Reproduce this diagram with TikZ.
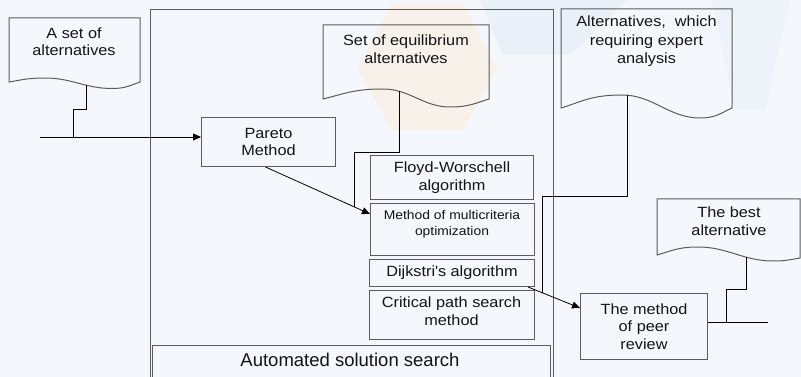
\documentclass[tikz,border=0pt]{standalone}
\usepackage{fontspec}
\setmainfont{Liberation Sans}[FakeStretch=1.1]
\newfontfamily\plainsans{Liberation Sans}
\usetikzlibrary{arrows.meta,calc}
\definecolor{bgc}{HTML}{F4F7FC}
\definecolor{boxc}{HTML}{5C5C5C}
\definecolor{txtc}{HTML}{141414}
\definecolor{wmor}{HTML}{F7F1EA}
\definecolor{wmbl}{HTML}{EAF0F8}
% document shape: xL xR top bottomL bottomR xPeak yPeak xDip yDip
\newcommand\docshp[9]{%
  \draw[docline] (#1,#4) -- (#1,#3) -- (#2,#3) -- (#2,#5)
    .. controls ({#2-0.35*(#2-#8)},{#5+0.5*(#9-#5)}) and ({#8+0.5*(#2-#8)},#9) .. (#8,#9)
    .. controls ({#8-0.4*(#8-#6)},#9) and ({#6+0.4*(#8-#6)},#7) .. (#6,#7)
    .. controls ({#6-0.5*(#6-#1)},#7) and ({#1+0.35*(#6-#1)},{#4-0.5*(#4-#7)}) .. (#1,#4) -- cycle;}
\begin{document}
\begin{tikzpicture}[x=1pt,y=-1pt,
  box/.style={draw=boxc, line width=1pt, anchor=north west, inner sep=0pt, align=center,
              text=txtc, font=\fontsize{14.8}{17.5}\selectfont},
  lbl/.style={inner sep=0pt, align=center, text=txtc, font=\fontsize{14.8}{17.5}\selectfont},
  docline/.style={draw=boxc, line width=1pt},
  conn/.style={draw=black, line width=0.8pt},
  arr/.style={conn, -{Triangle[length=8pt,width=7pt]}}]
\useasboundingbox (0,0) rectangle (801,377);
\clip (0,0) rectangle (801,377);
\fill[bgc] (0,0) rectangle (801,377);
% faint watermark
\fill[wmor] (392,3) -- (463,3) -- (497,68) -- (463,130) -- (392,130) -- (357,68) -- cycle;
\fill[wmbl] (480,0) -- (627,0) -- (570,55) -- (503,55) -- cycle;
\fill[wmbl, opacity=0.6] (712,0) -- (790,0) -- (765,110) -- (735,110) -- cycle;
% container
\node[draw=boxc, line width=1pt, anchor=north west, inner sep=0pt,
      minimum width=403pt, minimum height=400pt] (frame) at (150,9) {};
% boxes
\node[box, minimum width=134pt, minimum height=49pt] (pareto) at (201,117) {Pareto\\Method};
\node[box, minimum width=163pt, minimum height=44pt] (floyd) at (370,155) {Floyd-Worschell\\algorithm};
\node[box, minimum width=164pt, minimum height=52pt] (multi) at (370,203) {};
\node[lbl, font=\fontsize{12.6}{16}\selectfont] (multit) at (452,224) {Method of multicriteria\\optimization};
\node[box, minimum width=165pt, minimum height=27pt] (dijk) at (369,259) {Dijkstri\textquotesingle s algorithm};
\node[box, minimum width=165pt, minimum height=49pt] (crit) at (369,290) {};
\node[lbl] (critt) at (451.5,311) {Critical path search\\method};
\node[box, minimum width=398pt, minimum height=60pt] (auto) at (152,345) {};
\node[lbl, font=\plainsans\fontsize{18.5}{22}\selectfont] (autot) at (350,360) {Automated solution search};
\node[box, minimum width=127pt, minimum height=66pt] (peer) at (580,293) {The method\\of peer\\review};
% documents
\docshp{9}{140}{18}{82}{82}{45}{78}{112}{88.5}
\node[lbl] (docA) at (74,41.5) {A set of\\alternatives};
\docshp{323}{489}{25}{99}{99}{383}{89}{450}{107}
\node[lbl] (docE) at (406,49) {Set of equilibrium\\alternatives};
\docshp{561}{732}{9}{108}{108}{622}{95}{700}{118}
\node[lbl, font=\fontsize{14.8}{18.5}\selectfont] (docX) at (646.5,41.5) {Alternatives, \ which\\requiring expert\\analysis};
\docshp{657}{800}{199}{255}{258}{698}{247}{773}{261}
\node[lbl] (docB) at (729,221) {The best\\alternative};
% connector points
\coordinate (aB) at (86,85);
\coordinate (aJ) at (73,137);
\coordinate (in0) at (40,137);
\coordinate (pm0) at ($(pareto.south)+(-3,0)$);
\coordinate (pm1) at ($(multi.north west)+(0,11)$);
\coordinate (eB) at (399,91.5);
\coordinate (eJ) at ($(pm0)!0.848!(pm1)$);
\coordinate (dp0) at ($(dijk.south east)+(-7,0)$);
\coordinate (dp1) at ($(peer.north west)+(0,15)$);
\coordinate (xB) at (627,95.3);
\coordinate (xJ) at ($(dp0)!0.283!(dp1)$);
\coordinate (bB) at (746,257);
\coordinate (bJ) at (726,322);
\coordinate (out0) at (768,322);
% connectors
\draw[conn] (aB) -- ++(0,24) -| (aJ);
\draw[arr] (in0) -- (in0 -| pareto.west);
\draw[arr] (pm0) -- (pm1);
\draw[conn] (eB) -- ++(0,60.5) -| (eJ);
\draw[arr] (dp0) -- (dp1);
\draw[conn] (xB) -- ++(0,100.7) -| (xJ);
\draw[conn] (bB) -- ++(0,32) -| (bJ);
\draw[conn] (bJ -| peer.east) -- (out0);
\end{tikzpicture}
\end{document}
